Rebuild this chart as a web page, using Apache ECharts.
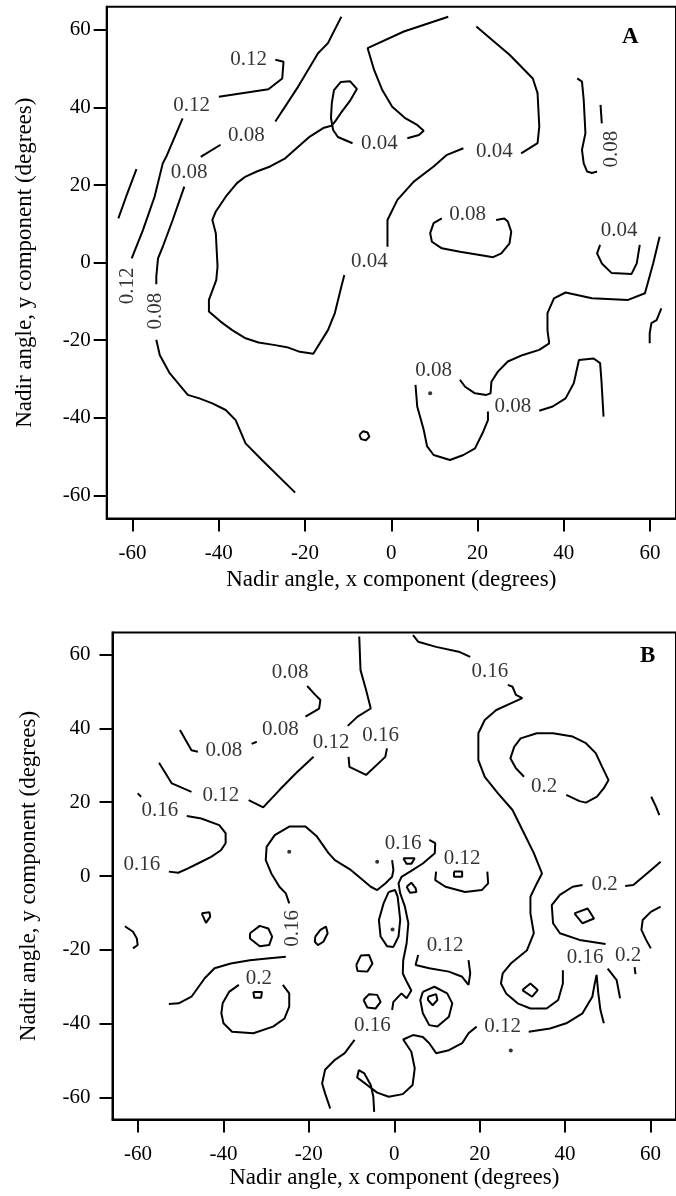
<!DOCTYPE html>
<html>
<head>
<meta charset="utf-8">
<script src="https://cdn.jsdelivr.net/npm/echarts@6/dist/echarts.min.js"></script>
<style>
html,body{margin:0;padding:0;background:#fff;}
#chart{width:676px;height:1196px;}
</style>
</head>
<body>
<div id="chart"></div>
<script>
// Tick positions shared by both panels (degrees)
const tickValues = [-60, -40, -20, 0, 20, 40, 60];
const axisRange = [-66, 66];

// ---------- Panel A : contour polylines [x, y] in degrees ----------
const a012Short = [[-59.1,24.1],[-61.5,17],[-63.3,11.4]];
const a012Hook = [[-26.9,52.3],[-25.0,51.8],[-25.3,47.5],[-28.5,44.7],[-40.0,42.8]];
const a012Main = [[-48.4,37.2],[-52.2,27.3],[-53.0,25.6],[-54.9,17.0],[-57.6,8.4],[-60.2,1.1]];

const a008LeftTop = [[-11.6,63.4],[-14.7,56.6],[-17.0,54.0],[-21.6,45.4],[-26.9,36.4]];
const a008LeftMid = [[-39.6,30.4],[-44.2,27.3]];
const a008LeftLow = [[-48.0,19.6],[-50.7,11.0],[-53.0,4.1],[-54.1,1.1],[-54.5,-3.6],[-54.5,-5.6]];
const a008LeftTail = [[-54.5,-19.9],[-53.7,-23.8],[-51.4,-28.5],[-47.2,-34.1],[-44.5,-35.0],[-41.5,-36.3],
  [-38.4,-38.0],[-36.1,-40.6],[-33.8,-46.6],[-30.0,-50.9],[-22.3,-59.3]];

const a004Top = [[13.2,63.4],[2.9,59.6],[-5.5,55.3],[-4.0,49.7],[-2.1,44.5],[0.2,40.2],[3.3,37.2],
  [6.0,35.5],[7.5,34.0],[6.4,32.9],[3.7,32.1]];
const a004Big = [[-9.0,30.8],[-12.4,32.4],[-13.5,34.2],[-14.0,37.3],[-13.8,41.2],[-13.3,44.5],[-11.7,46.6],
  [-9.6,46.8],[-8.0,44.8],[-9.6,41.7],[-11.7,38.6],[-13.1,36.3],[-13.9,35.3],[-15.8,34.7],[-18.9,32.5],
  [-21.6,29.9],[-24.6,26.9],[-28.1,24.8],[-31.2,23.5],[-33.8,22.2],[-35.8,20.5],[-38.4,17.0],[-40.7,13.2],
  [-41.5,11.0],[-40.7,7.6],[-40.3,-1.0],[-40.6,-4.5],[-42.3,-9.6],[-42.3,-12.6],[-39.6,-15.2],[-36.9,-17.4],
  [-33.8,-19.5],[-30.8,-20.6],[-27.3,-21.2],[-23.9,-21.9],[-21.2,-23.0],[-18.1,-23.5],[-14.7,-17.4],
  [-13.1,-13.0],[-11.6,-6.2],[-10.9,-3.2]];
const a004Rise = [[-0.9,4.1],[-0.9,11.0],[1.4,16.2],[5.2,20.9],[9.8,24.8],[12.9,27.8],[16.7,29.5]];
const a004Arc = [[30.1,28.2],[33.9,30.8],[34.3,35.1],[33.9,43.7],[32.8,47.5],[27.4,53.6],[19.7,60.9]];

const a008Right = [[43.1,47.5],[44.2,46.7],[44.6,42.0],[45.0,33.4],[44.2,29.1],[44.6,25.6],[45.4,23.5],[46.5,23.1],[47.7,23.5]];
const a008RightTail = [[48.8,35.9],[48.5,40.7]];
const a008Island = [[11.7,11.4],[9.8,10.2],[9.0,7.6],[9.4,5.4],[11.7,3.7],[15.9,2.8],[20.5,2.0],[23.6,1.4],
  [25.5,2.4],[27.4,5.0],[27.8,8.0],[27.0,10.6],[26.2,11.4],[24.3,11.0]];
const a004Cup = [[48.4,4.6],[47.7,2.4],[48.8,-0.2],[51.1,-2.7],[55.7,-2.9],[56.9,-0.2],[57.6,4.6]];

const a008LowUpper = [[62.2,6.7],[60.7,-0.2],[58.8,-7.9],[54.9,-9.6],[46.5,-9.2],[40.4,-7.7],[37.7,-9.2],
  [36.2,-13.0],[36.2,-17.4],[36.6,-20.8],[34.3,-22.5],[30.5,-23.8],[27.0,-25.5],[24.7,-28.1],[23.2,-30.7],
  [23.0,-33.7],[22.0,-34.1],[19.4,-33.7],[17.1,-32.0],[15.9,-30.2]];
const a008LowBowl = [[5.6,-31.5],[6.0,-37.1],[7.5,-43.1],[8.3,-47.4],[9.8,-49.6],[13.6,-50.9],[16.7,-49.6],
  [19.4,-47.9],[21.3,-43.6],[22.4,-40.6],[22.4,-38.4]];
const a008LowRight = [[34.3,-38.2],[37.4,-37.1],[40.4,-35.0],[42.3,-31.1],[43.5,-25.1],[46.9,-24.7],
  [48.4,-25.9],[48.7,-30.2],[49.2,-39.7]];
const aEdge = [[62.6,-11.8],[61.5,-14.8],[60.3,-15.6],[59.9,-18.2],[59.9,-20.8]];
const aRing = [[-7.4,-44.4],[-6.6,-43.5],[-5.5,-43.8],[-5.1,-44.9],[-5.9,-45.8],[-7.0,-45.5],[-7.4,-44.4]];
const aDots = [[9.0,-33.7]];

// contour level labels: [x, y, level]
const aLabels = [[-33.1,52.3,0.12],[-46.3,40.5,0.12],[-33.6,32.7,0.08],[-46.9,23.3,0.08],[-2.8,30.8,0.04],
  [23.9,28.6,0.04],[-5.1,0.2,0.04],[17.7,12.3,0.08],[52.8,8.2,0.04],[9.8,-27.9,0.08],[28.2,-37.1,0.08]];
const aLabelsVertical = [[-61.2,-6.0,0.12],[-54.7,-12.5,0.08],[51.0,29.3,0.08]];

// ---------- Panel B ----------
const b008Top = [[-20.4,51.5],[-18.5,49.1],[-17.3,47.7],[-17.6,45.4],[-20.8,43.2]];
const b008Dash = [[-32.2,36.4],[-33.4,35.8]];
const b008Left = [[-46.0,33.7],[-47.5,34.1],[-50.2,39.6]];

const b012Left = [[-55.1,30.7],[-52.1,25.1],[-47.5,22.8]];
const b012Mid = [[-34.1,20.6],[-30.7,18.6],[-26.9,23.3],[-23.1,27.8],[-18.9,32.3]];
const b012Up = [[-10.9,40.7],[-8.6,43.2],[-5.5,45.4],[-6.6,50.4],[-7.9,55.8],[-8.2,64.9]];
const b016Cup = [[-10.7,32.3],[-10.5,29.6],[-6.6,27.4],[-2.1,32.3],[-1.7,34.6]];

const b016TopRight = [[4.4,65.3],[5.6,63.5],[9.8,62.1],[15.1,60.8],[17.8,59.4]];
const b016Long = [[26.6,51.8],[27.7,51.3],[28.5,49.1],[30.0,48.2],[27.3,46.8],[23.9,45.0],[21.2,42.3],
  [19.7,38.7],[19.7,31.4],[21.2,26.9],[24.3,22.4],[27.7,17.9],[30.4,11.6],[32.7,6.2],[34.6,0.7],[33.4,-2.0],
  [31.9,-5.6],[31.9,-10.1],[32.7,-15.5],[31.1,-20.1],[27.3,-23.7],[25.4,-26.4],[25.0,-29.1],[26.2,-31.8],
  [28.9,-34.5],[31.9,-35.9],[35.7,-35.9],[38.4,-33.6],[39.5,-29.1],[39.5,-25.5]];

const b020Upper = [[30.4,26.9],[28.5,29.2],[27.2,31.9],[28.1,35.0],[29.6,37.3],[33.4,38.7],[37.2,38.7],
  [41.8,37.8],[44.9,36.0],[47.2,33.3],[48.7,29.6],[50.2,26.0],[49.1,23.8],[47.5,21.5],[44.9,19.9],[43.4,20.3],[40.3,22.0]];
const bEdge = [[60.2,21.5],[61.3,18.8],[62.1,16.5]];
const b020RightA = [[62.4,3.9],[60.1,1.6],[56.0,-2.4],[54.1,-2.7]];
const b020RightB = [[44.1,-2.4],[41.8,-2.9],[38.8,-5.1],[36.9,-7.9],[37.2,-12.8],[38.8,-15.5],[43.4,-17.3],[49.5,-18.4]];
const b020RightC = [[60.1,-19.6],[59.0,-17.3],[57.9,-14.6],[58.2,-11.9],[60.1,-9.7],[62.4,-8.3]];
const b020Drop = [[50.0,-25.1],[52.1,-28.2],[52.9,-33.1]];
const b020Tick = [[56.3,-24.7],[56.5,-26.6]];
const bRingRight = [[42.2,-10.1],[45.3,-8.8],[46.8,-11.5],[44.1,-12.8],[42.2,-10.1]];
const bRingLow = [[30.0,-30.9],[31.9,-29.1],[33.6,-30.9],[32.3,-32.7],[30.0,-30.9]];

const b012LowRight = [[49.1,-39.9],[48.3,-36.3],[47.8,-31.8],[47.4,-26.8],[46.9,-29.5],[46.4,-32.7],
  [44.1,-37.2],[40.3,-39.9],[36.5,-41.3],[31.5,-42.2]];
const b012LowLeft = [[19.3,-40.8],[17.4,-42.6],[15.9,-45.3],[12.8,-47.2],[9.8,-48.0],[8.2,-45.3],[6.7,-43.6],
  [4.4,-43.1],[2.1,-44.3],[4.0,-47.6],[4.8,-52.1],[4.3,-56.6],[2.0,-59.1],[-1.3,-59.8],[-4.0,-58.7],
  [-6.6,-56.4],[-8.7,-54.6],[-8.3,-52.6],[-7.0,-53.5],[-5.5,-56.6],[-4.9,-59.8],[-4.7,-63.9]];
const b016LowTail = [[-9.3,-44.4],[-11.6,-48.0],[-13.9,-49.8],[-16.2,-52.5],[-16.9,-56.2],[-16.2,-58.9],[-15.0,-63.0]];

const b016West = [[-60.1,22.4],[-59.3,21.5]];
const b016WestBulge = [[-48.6,16.3],[-45.2,15.6],[-41.0,13.8],[-39.5,11.6],[-39.5,8.9],[-40.6,7.0],[-42.9,5.2],
  [-46.0,3.4],[-48.3,2.1],[-50.6,0.9],[-52.8,1.2]];
const b016CentralLow = [[-52.8,-34.7],[-50.5,-34.5],[-47.5,-32.7],[-44.4,-27.7],[-42.1,-25.0],[-38.3,-23.7],
  [-33.8,-22.8],[-29.2,-22.3],[-25.4,-21.9]];
const b016Central = [[-24.6,-7.4],[-25.4,-4.7],[-26.9,-2.9],[-28.8,0.7],[-30.1,4.3],[-29.9,7.9],[-28.0,11.1],
  [-24.6,13.4],[-20.8,13.4],[-18.1,10.7],[-15.4,6.2],[-13.9,4.3],[-10.1,1.6],[-5.5,-2.9],[-4.0,-3.8],
  [-2.1,-2.0],[-0.5,-0.2],[-0.2,1.6],[-0.5,4.3]];
const b016Spine = [[8.2,9.8],[9.6,8.9],[9.5,6.2],[6.7,3.4],[3.7,1.2],[1.7,-0.2],[1.0,-2.0],[1.4,-4.7],
  [2.5,-8.3],[3.3,-12.8],[2.9,-18.2],[2.1,-22.8],[2.0,-26.4],[2.9,-28.6],[4.0,-31.0],[2.9,-33.1],
  [1.7,-31.8],[-0.2,-34.1],[-0.5,-36.3]];
const b012Pocket = [[9.8,1.2],[9.6,-1.1],[12.0,-2.9],[16.6,-4.3],[20.5,-3.8],[22.0,-2.0],[21.8,1.2]];
const b012Notch = [[5.6,-21.4],[5.0,-24.1],[8.2,-25.0],[12.8,-25.9],[15.9,-27.3],[17.4,-29.5],[17.8,-26.4],[17.4,-22.8]];

const bLoopLeftEdge = [[-63.1,-13.6],[-61.2,-15.1],[-60.3,-16.9],[-60.1,-18.7],[-61.2,-19.6]];
const bLoopTear = [[-45.1,-10.1],[-43.3,-9.8],[-43.1,-11.0],[-44.1,-12.7],[-45.1,-10.1]];
const bLoopHex = [[-33.8,-15.5],[-31.5,-13.5],[-29.5,-14.2],[-28.6,-16.4],[-29.3,-18.7],[-31.5,-19.0],[-33.8,-16.9],[-33.8,-15.5]];
const bLoopSmall = [[-18.5,-16.4],[-17.3,-14.6],[-16.0,-13.7],[-15.6,-15.5],[-16.6,-17.8],[-17.9,-18.7],[-18.6,-17.8],[-18.5,-16.4]];
const b020West = [[-36.4,-29.5],[-38.7,-31.4],[-40.2,-34.5],[-40.5,-37.2],[-40.0,-39.9],[-38.0,-42.2],[-33.0,-42.6],
  [-28.4,-40.8],[-25.7,-38.6],[-24.6,-35.4],[-24.6,-31.8],[-26.1,-29.5]];
const b020WestCore = [[-33.0,-31.4],[-31.0,-31.4],[-31.2,-33.0],[-32.8,-33.0],[-33.0,-31.4]];
const bLoopNarrow = [[-1.3,-4.3],[0.2,-3.8],[0.8,-5.6],[1.4,-11.9],[1.0,-16.4],[-0.2,-19.2],[-1.7,-19.0],
  [-3.2,-16.4],[-3.6,-11.9],[-2.5,-7.4],[-1.3,-4.3]];
const bLoopNub = [[2.1,4.8],[4.8,4.8],[4.0,3.3],[2.9,3.3],[2.1,4.8]];
const bLoopBead = [[2.9,-2.9],[4.0,-1.8],[5.0,-3.3],[5.2,-4.3],[3.7,-4.5],[2.9,-2.9]];
const bLoopPent = [[-8.9,-24.1],[-7.8,-21.5],[-5.9,-21.4],[-5.1,-23.7],[-6.3,-25.9],[-8.6,-25.7],[-8.9,-24.1]];
const bLoopRound = [[-7.2,-33.6],[-5.9,-32.0],[-4.0,-32.2],[-3.2,-34.1],[-4.4,-35.9],[-6.3,-35.6],[-7.2,-33.6]];
const bPeakOuter = [[6.7,-31.4],[9.4,-30.0],[12.4,-31.8],[13.6,-34.5],[12.8,-38.1],[10.1,-40.8],[8.2,-40.4],[6.7,-37.2],[6.1,-33.6],[6.7,-31.4]];
const bPeakInner = [[7.9,-32.7],[9.8,-32.0],[10.1,-33.6],[9.0,-35.0],[7.9,-33.6],[7.9,-32.7]];
const bPocketCore = [[14.0,1.2],[15.9,1.2],[15.9,-0.2],[14.0,-0.2],[14.0,1.2]];
const bDots = [[-24.6,6.6],[-4.0,3.9],[-0.4,-14.5],[27.3,-47.3]];

const bLabels = [[-24.4,55.1,0.08],[-26.7,39.8,0.08],[-39.9,34.1,0.08],[-40.6,21.7,0.12],[-14.8,36.2,0.12],
  [-3.2,38.0,0.16],[22.4,55.4,0.16],[35.1,24.2,0.2],[-54.9,17.7,0.16],[-59.1,3.0,0.16],[2.1,8.7,0.16],
  [15.9,4.8,0.12],[49.3,-2.4,0.2],[11.9,-18.9,0.12],[44.7,-22.1,0.16],[54.8,-21.6,0.2],[-31.7,-27.7,0.2],
  [-5.1,-40.6,0.16],[25.4,-40.8,0.12]];
const bLabelsVertical = [[-23.8,-14.2,0.16]];

// ---------- chart construction ----------
const SERIF = '"Liberation Serif", "Times New Roman", serif';
const panelLines = [
  [a012Short,a012Hook,a012Main,a008LeftTop,a008LeftMid,a008LeftLow,a008LeftTail,a004Top,a004Big,a004Rise,
   a004Arc,a008Right,a008RightTail,a008Island,a004Cup,a008LowUpper,a008LowBowl,a008LowRight,aEdge,aRing],
  [b008Top,b008Dash,b008Left,b012Left,b012Mid,b012Up,b016Cup,b016TopRight,b016Long,b020Upper,bEdge,
   b020RightA,b020RightB,b020RightC,b020Drop,b020Tick,bRingRight,bRingLow,b012LowRight,b012LowLeft,
   b016LowTail,b016West,b016WestBulge,b016CentralLow,b016Central,b016Spine,b012Pocket,b012Notch,
   bLoopLeftEdge,bLoopTear,bLoopHex,bLoopSmall,b020West,b020WestCore,bLoopNarrow,bLoopNub,bLoopBead,
   bLoopPent,bLoopRound,bPeakOuter,bPeakInner,bPocketCore]
];
const panelDots = [aDots, bDots];
const panelLabels = [aLabels, bLabels];
const panelLabelsVertical = [aLabelsVertical, bLabelsVertical];

const series = [];
panelLines.forEach((lines, p) => {
  lines.forEach(pts => series.push({
    type: 'line', xAxisIndex: p, yAxisIndex: p, data: pts, showSymbol: false, symbol: 'none',
    lineStyle: {color: '#000', width: 2}, silent: true, animation: false
  }));
  series.push({
    type: 'scatter', xAxisIndex: p, yAxisIndex: p, data: panelDots[p], symbolSize: 4,
    itemStyle: {color: '#000'}, silent: true, animation: false
  });
  [[panelLabels[p], 0], [panelLabelsVertical[p], 90]].forEach(([lab, rot]) => series.push({
    type: 'scatter', xAxisIndex: p, yAxisIndex: p, data: lab, symbolSize: 0, silent: true, animation: false,
    label: {show: true, position: 'inside', rotate: rot, color: '#000', fontFamily: SERIF, fontSize: 21,
      formatter: q => String(q.value[2])}
  }));
});

// Pixel layout of the two plotting frames
const grids = [
  {left: 106.7, top: 6.7, width: 574.9, height: 511.9},
  {left: 112.5, top: 632.5, width: 576.3, height: 487.1}
];
const labelMarginY = [16, 22];

function xAxisFor(i) {
  return {
    gridIndex: i, type: 'value', min: axisRange[0], max: axisRange[1],
    axisLine: {show: true, onZero: false, lineStyle: {color: '#000', width: 2}},
    axisTick: {show: true, length: 13, customValues: tickValues, lineStyle: {color: '#000', width: 2}},
    axisLabel: {customValues: tickValues, margin: 24, color: '#000', fontFamily: SERIF, fontSize: 21},
    splitLine: {show: false},
    name: 'Nadir angle, x component (degrees)', nameLocation: 'middle', nameGap: i === 0 ? 50 : 47,
    nameTextStyle: {color: '#000', fontFamily: SERIF, fontSize: 23}
  };
}
function yAxisFor(i) {
  return {
    gridIndex: i, type: 'value', min: axisRange[0], max: axisRange[1],
    axisLine: {show: true, onZero: false, lineStyle: {color: '#000', width: 2}},
    axisTick: {show: true, length: 13, customValues: tickValues, lineStyle: {color: '#000', width: 2}},
    axisLabel: {customValues: tickValues, margin: labelMarginY[i], color: '#000', fontFamily: SERIF, fontSize: 21},
    splitLine: {show: false},
    name: 'Nadir angle, y component (degrees)', nameLocation: 'middle', nameGap: i === 0 ? 70 : 72,
    nameTextStyle: {color: '#000', fontFamily: SERIF, fontSize: 23}
  };
}

const chart = echarts.init(document.getElementById('chart'), null, {renderer: 'canvas'});
chart.setOption({
  backgroundColor: '#fff',
  animation: false,
  grid: grids.map(g => Object.assign({show: true, borderColor: '#000', borderWidth: 2, backgroundColor: 'transparent'}, g)),
  xAxis: [xAxisFor(0), xAxisFor(1)],
  yAxis: [yAxisFor(0), yAxisFor(1)],
  graphic: [
    {type: 'text', left: 622, top: 26, style: {text: 'A', fill: '#000', font: 'bold 23px ' + SERIF}},
    {type: 'text', left: 640, top: 645, style: {text: 'B', fill: '#000', font: 'bold 23px ' + SERIF}}
  ],
  series: series
});
</script>
</body>
</html>
